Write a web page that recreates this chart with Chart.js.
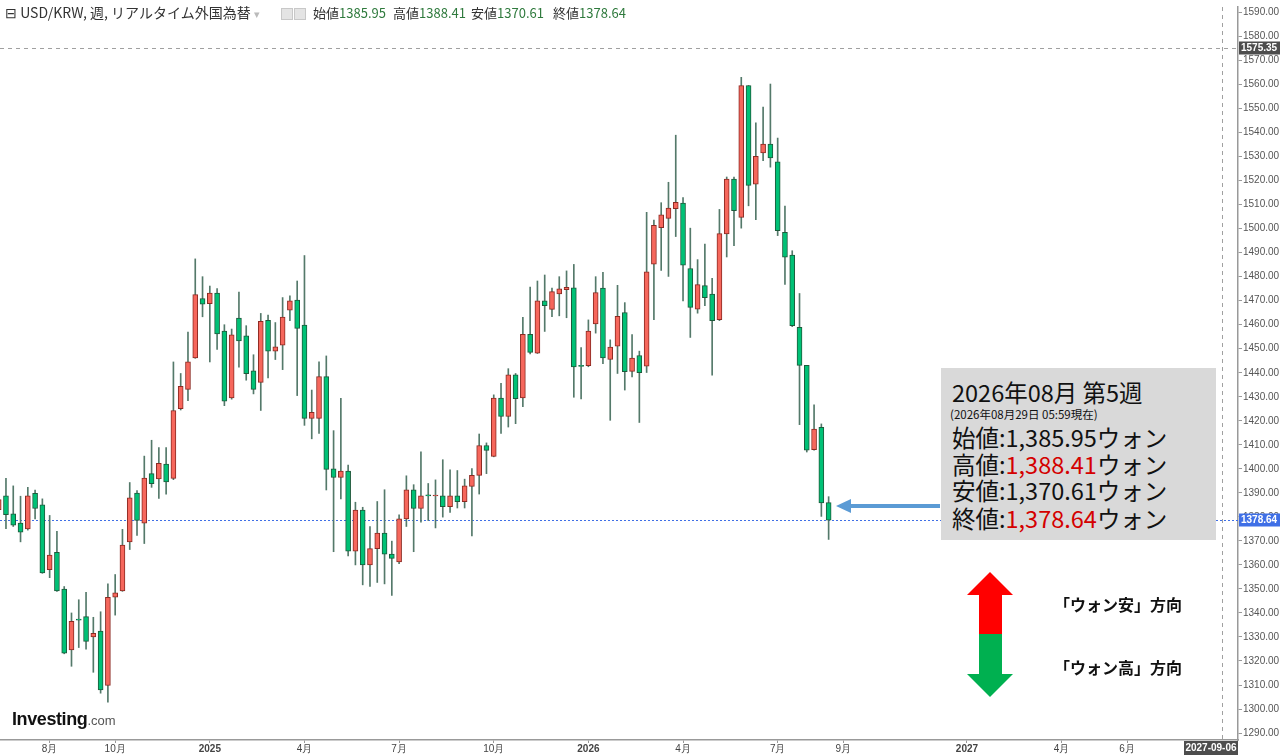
<!DOCTYPE html>
<html><head><meta charset="utf-8">
<script src="https://cdn.jsdelivr.net/npm/chart.js@4.4.1/dist/chart.umd.min.js"></script>
<style>
html,body{margin:0;padding:0;background:#fff;width:1280px;height:755px;overflow:hidden;}
#wrap{position:relative;width:1280px;height:755px;}
#c{position:absolute;left:0;top:0;}
.ov{position:absolute;white-space:nowrap;}
.hd{top:5px;font:13px "Noto Sans CJK JP","Noto Sans",sans-serif;color:#333;line-height:16px;}
.hd .v{color:#2f7a3d;}
.sq{position:absolute;top:8px;width:10px;height:10px;background:#e4e4e4;border:1px solid #c8c8c8;}
#info{left:941px;top:368px;width:275px;height:172px;background:#d9d9d9;font-family:"Noto Sans CJK JP",sans-serif;color:#111;}
#info .t{position:absolute;left:11px;top:10px;font-size:23.5px;line-height:28px;}
#info .s{position:absolute;left:9px;top:39px;font-size:11.5px;line-height:14px;}
#info .r{position:absolute;left:11px;font-size:23.5px;line-height:26px;}
#info .red{color:#d40000;}
.dir{font:bold 16px "Noto Sans CJK JP",sans-serif;color:#111;}
#logo{left:12px;top:709px;font:bold 18px "Liberation Sans",Arial,sans-serif;letter-spacing:-0.4px;color:#111;}
#logo small{font:13px "Liberation Sans",Arial,sans-serif;color:#555;letter-spacing:0;}
</style></head>
<body><div id="wrap">
<canvas id="c" width="1280" height="755"></canvas>
<div class="ov hd" style="left:5px;top:4px;font-size:14px">⊟ USD/KRW, 週, リアルタイム外国為替 <span style="color:#bbb;font-size:11px">▾</span></div>
<div class="sq" style="left:281px"></div><div class="sq" style="left:294px"></div>
<div class="ov hd" style="left:313px">始値<span class="v">1385.95</span></div>
<div class="ov hd" style="left:393px">高値<span class="v">1388.41</span></div>
<div class="ov hd" style="left:471px">安値<span class="v">1370.61</span></div>
<div class="ov hd" style="left:553px">終値<span class="v">1378.64</span></div>
<div class="ov" id="info">
 <div class="t">2026年08月 第5週</div>
 <div class="s">(2026年08月29日 05:59現在)</div>
 <div class="r" style="top:56px">始値:1,385.95ウォン</div>
 <div class="r" style="top:83px">高値:<span class="red">1,388.41</span>ウォン</div>
 <div class="r" style="top:109px">安値:1,370.61ウォン</div>
 <div class="r" style="top:137px">終値:<span class="red">1,378.64</span>ウォン</div>
</div>
<svg class="ov" style="left:0;top:0" width="1280" height="755">
 <line x1="940" y1="506" x2="848" y2="506" stroke="#5b9bd5" stroke-width="4"/>
 <polygon points="836,506 851,499 851,513" fill="#5b9bd5"/>
 <polygon points="990,572 1013,595 1002,595 1002,634 979,634 979,595 967,595" fill="#ff0000"/>
 <polygon points="979,634 1002,634 1002,674 1013,674 990,697 967,674 979,674" fill="#00b050"/>
</svg>
<div class="ov dir" style="left:1054px;top:592px">「ウォン安」方向</div>
<div class="ov dir" style="left:1054px;top:655px">「ウォン高」方向</div>
<div class="ov" id="logo">Investing<small>.com</small></div>
</div>
<script>
// ---- data ----
const weekStart = '2024-06-16';
const weekCount = 172;
const opens = [
 1383.0,1388.8,1381.3,1377.4,1375.0,1389.8,1385.0,1358.0,1365.2,1349.9,
 1324.6,1337.5,1338.5,1330.0,1332.5,1309.8,1346.6,1349.2,1369.6,1389.9,
 1377.4,1398.0,1395.8,1402.0,1396.0,1425.0,1433.1,1446.2,1470.9,1468.8,
 1473.2,1457.3,1429.5,1462.8,1455.4,1440.8,1436.0,1461.8,1449.0,1451.5,
 1466.1,1470.3,1459.8,1421.0,1421.0,1438.4,1400.0,1396.4,1399.1,1365.7,
 1382.8,1360.0,1366.8,1373.3,1364.5,1361.2,1379.2,1391.3,1383.5,1389.2,
 1388.7,1388.8,1384.3,1388.8,1386.3,1392.7,1397.3,1409.7,1405.2,1429.5,
 1421.8,1439.1,1429.5,1456.0,1448.2,1469.9,1466.4,1472.8,1474.6,1475.4,
 1443.1,1443.0,1460.3,1475.2,1445.5,1451.1,1465.1,1440.6,1447.2,1442.7,
 1485.2,1500.4,1504.3,1508.3,1510.6,1483.4,1466.5,1476.3,1472.8,1462.1,
 1497.8,1520.6,1504.7,1559.6,1518.5,1531.5,1535.2,1527.8,1498.5,1489.0,
 1458.9,1443.1,1408.0,1417.3,1385.95];
const highs = [
 1390.0,1396.0,1392.9,1388.6,1392.3,1391.2,1387.5,1380.6,1374.0,1351.0,
 1340.0,1345.5,1348.6,1338.2,1340.5,1352.1,1356.0,1374.8,1394.3,1390.9,
 1405.3,1411.9,1408.8,1408.8,1444.5,1439.7,1456.9,1487.4,1480.0,1476.1,
 1475.0,1460.0,1458.2,1473.6,1459.6,1447.5,1464.7,1464.0,1460.9,1471.3,
 1472.0,1478.2,1488.8,1432.8,1444.5,1447.0,1415.9,1429.4,1401.6,1386.1,
 1384.0,1376.0,1386.4,1391.3,1369.9,1380.9,1397.1,1393.4,1407.1,1393.9,
 1395.4,1403.8,1399.6,1399.3,1395.7,1400.1,1414.5,1410.8,1430.8,1435.6,
 1441.7,1439.7,1463.1,1475.7,1478.2,1480.7,1475.2,1480.0,1482.4,1485.1,
 1450.5,1462.0,1480.0,1481.8,1453.7,1476.4,1469.2,1455.9,1449.0,1506.8,
 1503.6,1510.8,1519.3,1538.9,1512.9,1500.2,1487.1,1493.6,1479.3,1508.0,
 1521.5,1521.5,1563.0,1559.6,1544.1,1550.6,1560.2,1537.7,1509.4,1490.8,
 1473.0,1443.1,1426.6,1418.7,1388.41];
const lows = [
 1381.0,1375.1,1376.0,1369.6,1374.5,1379.2,1356.5,1354.7,1349.0,1323.0,
 1317.8,1325.6,1324.9,1315.3,1306.6,1302.9,1339.1,1349.0,1366.4,1372.3,
 1368.9,1392.3,1387.7,1389.5,1395.5,1424.5,1428.4,1446.0,1463.3,1444.5,
 1449.7,1426.3,1429.0,1442.3,1436.9,1431.2,1424.3,1437.9,1445.5,1441.3,
 1461.7,1430.5,1418.1,1412.5,1414.7,1391.2,1365.5,1387.5,1363.7,1360.0,
 1351.7,1351.0,1352.7,1352.1,1347.3,1360.5,1376.0,1365.5,1377.8,1378.5,
 1375.4,1379.9,1381.9,1383.7,1383.7,1372.1,1389.5,1398.0,1405.0,1414.7,
 1417.4,1418.8,1425.9,1447.8,1448.0,1457.2,1463.3,1463.7,1462.9,1429.8,
 1429.1,1442.5,1456.5,1443.8,1420.2,1439.7,1432.8,1438.3,1419.3,1440.1,
 1462.1,1482.6,1480.1,1496.7,1469.9,1454.7,1464.8,1467.9,1439.0,1461.7,
 1488.2,1492.9,1500.2,1509.5,1503.7,1528.3,1525.6,1497.1,1476.8,1459.2,
 1418.4,1407.0,1407.8,1380.2,1370.61];
const closes = [
 1387.2,1380.9,1376.5,1373.6,1388.8,1383.5,1356.7,1364.1,1349.2,1323.3,
 1336.5,1337.0,1328.2,1331.5,1308.0,1346.5,1348.4,1368.3,1387.9,1378.5,
 1396.2,1393.8,1402.3,1394.6,1424.3,1434.3,1444.5,1472.5,1468.6,1473.2,
 1456.2,1428.2,1455.8,1453.3,1439.6,1433.1,1461.4,1449.0,1450.8,1463.2,
 1469.9,1458.5,1421.0,1423.5,1438.4,1399.8,1396.4,1399.1,1365.7,1382.8,
 1360.0,1366.8,1373.3,1364.5,1362.7,1379.2,1391.3,1383.5,1388.8,1388.7,
 1389.0,1384.3,1388.8,1386.3,1392.9,1397.3,1409.7,1407.7,1429.5,1421.8,
 1439.1,1429.2,1456.0,1448.5,1469.9,1467.9,1473.8,1474.9,1475.6,1442.4,
 1442.6,1457.3,1473.4,1446.2,1450.7,1463.5,1440.4,1446.1,1440.0,1482.0,
 1501.4,1505.7,1508.6,1511.0,1484.8,1467.2,1476.7,1471.3,1461.7,1497.9,
 1520.6,1507.5,1559.6,1518.0,1530.1,1535.2,1529.4,1499.2,1488.1,1459.6,
 1443.1,1407.8,1416.6,1385.8,1378.64];
const tickDates  = ['2024-08-04','2024-10-06','2025-01-05','2025-04-06','2025-07-06','2025-10-05','2026-01-04','2026-04-05','2026-07-05','2026-09-06','2027-01-03','2027-04-04','2027-06-06'];
const tickLabels = ['8月','10月','2025','4月','7月','10月','2026','4月','7月','9月','2027','4月','6月'];
const crossDate = '2027-09-05';
const crossDateLabel = '2027-09-06';
const crossPrice = 1575.35;
const lastPrice = 1378.64;

// ---- categories (weekly) ----
const weeks = [];
const t0 = Date.parse(weekStart + 'T00:00:00Z');
for (let i = 0; i < weekCount; i++) weeks.push(new Date(t0 + i * 7 * 864e5).toISOString().slice(0, 10));
const idx = d => weeks.indexOf(d);

const upFill = '#f6675c', upLine = '#8c2a22', dnFill = '#00c176', dnLine = '#1d5a3b', wickCol = '#54796a';
const isUp = i => closes[i] >= opens[i];

const bodies = opens.map((o, i) => ({x: i, y: [o, closes[i]]}));
const wicks = highs.map((h, i) => ({x: i, y: [lows[i], h]}));

const overlay = {
  id: 'overlay',
  beforeDatasetsDraw(chart) {
    const {ctx, chartArea: a, scales: {x, y}} = chart;
    ctx.save();
    ctx.lineWidth = 1;
    ctx.strokeStyle = '#a0a0a0';
    ctx.setLineDash([4, 4]);
    const yc = Math.round(y.getPixelForValue(crossPrice)) + 0.5;
    ctx.beginPath(); ctx.moveTo(a.left, yc); ctx.lineTo(a.right, yc); ctx.stroke();
    const xc = Math.round(x.getPixelForValue(idx(crossDate))) + 0.5;
    ctx.beginPath(); ctx.moveTo(xc, a.top); ctx.lineTo(xc, chart.height); ctx.stroke();
    ctx.strokeStyle = '#3f6fe6';
    ctx.setLineDash([2, 2]);
    const yl = Math.round(y.getPixelForValue(lastPrice)) + 0.5;
    ctx.beginPath(); ctx.moveTo(a.left, yl); ctx.lineTo(a.right, yl); ctx.stroke();
    ctx.restore();
  },
  afterDraw(chart) {
    const {ctx, chartArea: a, scales: {y}} = chart;
    ctx.save();
    ctx.font = 'bold 10px "Liberation Sans", Arial, sans-serif';
    ctx.textBaseline = 'middle';
    const yb = (val, bg) => {
      const py = Math.round(y.getPixelForValue(val));
      ctx.fillStyle = bg;
      ctx.fillRect(a.right + 1, py - 6.5, chart.width - a.right - 1, 13);
      ctx.fillStyle = '#fff';
      ctx.textAlign = 'left';
      ctx.fillText(val.toFixed(2), a.right + 3, py + 0.5);
    };
    yb(crossPrice, '#4d4d4d');
    yb(lastPrice, '#3f6fe6');
    ctx.fillStyle = '#4d4d4d';
    ctx.fillRect(a.right - 54, a.bottom + 1, 54, chart.height - a.bottom - 1);
    ctx.fillStyle = '#fff';
    ctx.textAlign = 'center';
    ctx.fillText(crossDateLabel, a.right - 27, a.bottom + 8);
    ctx.restore();
  }
};

new Chart(document.getElementById('c'), {
  type: 'bar',
  data: {datasets: [
    {label: 'body', data: bodies, order: 0, grouped: false, barThickness: 5, minBarLength: 1,
     borderWidth: 1, borderSkipped: false,
     backgroundColor: c => isUp(c.dataIndex) ? upFill : dnFill,
     borderColor: c => isUp(c.dataIndex) ? upLine : dnLine},
    {label: 'wick', data: wicks, order: 1, grouped: false, barThickness: 1,
     backgroundColor: wickCol, borderWidth: 0}
  ]},
  options: {
    responsive: false, animation: false, devicePixelRatio: 1,
    layout: {padding: 0},
    plugins: {legend: {display: false}, tooltip: {enabled: false}},
    scales: {
      x: {
        type: 'linear', min: 0.18, max: 170.23, offset: false,
        grid: {offset: false, drawOnChartArea: false, drawTicks: true, tickLength: 3, color: '#999'},
        border: {display: true, color: '#999', width: 1.5},
        afterBuildTicks: s => { s.ticks = tickDates.map(d => ({value: idx(d)})); },
        afterFit: s => { s.height = 15; },
        ticks: {
          autoSkip: false, maxRotation: 0, padding: 0, color: '#444',
          font: c => ({family: '"Liberation Sans", Arial, sans-serif', size: 10,
                       weight: /^\d{4}$/.test(tickLabels[c.index] || '') ? 'bold' : 'normal'}),
          callback: (v, i) => tickLabels[i]
        }
      },
      y: {
        position: 'right', min: 1287.11, max: 1592.27,
        grid: {drawOnChartArea: false, drawTicks: true, tickLength: 4, color: '#999'},
        border: {display: true, color: '#999', width: 1.5},
        afterFit: s => { s.width = 42; },
        ticks: {
          stepSize: 10, maxTicksLimit: 100, includeBounds: false, padding: 1,
          color: '#555', font: {family: '"Liberation Sans", Arial, sans-serif', size: 10},
          callback: v => Number(v).toFixed(2)
        }
      }
    }
  },
  plugins: [overlay]
});
</script>
</body></html>
